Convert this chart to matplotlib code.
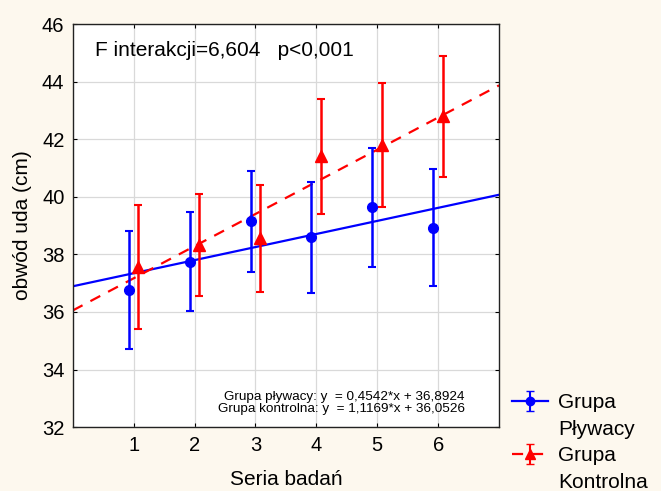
import matplotlib
matplotlib.use("Agg")
import matplotlib.pyplot as plt
from matplotlib.lines import Line2D
import numpy as np

plt.rcParams['font.family'] = ['Liberation Sans', 'DejaVu Sans']

series = [1, 2, 3, 4, 5, 6]
plywacy_mean = [36.75, 37.75, 39.15, 38.6, 39.63, 38.93]
plywacy_err = [2.05, 1.72, 1.75, 1.93, 2.06, 2.02]
kontrolna_mean = [37.57, 38.33, 38.56, 41.41, 41.8, 42.8]
kontrolna_err = [2.15, 1.78, 1.86, 2.0, 2.15, 2.1]
fit_plywacy = (0.4542, 36.8924)
fit_kontrolna = (1.1169, 36.0526)
yticks = [32, 34, 36, 38, 40, 42, 44, 46]

bg = '#FDF8EE'
blue = '#0000FF'
red = '#FF0000'
fig = plt.figure(figsize=(6.61, 4.91), dpi=100, facecolor=bg)
ax = fig.add_axes([0.110, 0.130, 0.645, 0.821])
ax.set_facecolor('white')

x = np.array(series, dtype=float)
off = 0.08
xl = np.array([0, 7])
ax.plot(xl, fit_plywacy[0] * xl + fit_plywacy[1], color=blue, lw=1.6, zorder=2)
ax.plot(xl, fit_kontrolna[0] * xl + fit_kontrolna[1], color=red, lw=1.6,
        ls=(0, (5, 4)), zorder=2)

ax.errorbar(x - off, plywacy_mean, yerr=plywacy_err, fmt='o', color=blue,
            ms=7, capsize=3, elinewidth=1.8, capthick=1.5, zorder=3)
ax.errorbar(x + off, kontrolna_mean, yerr=kontrolna_err, fmt='^', color=red,
            ms=8, capsize=3, elinewidth=1.8, capthick=1.5, zorder=3)

# legend proxies (line + marker + error bar)
h1 = ax.errorbar([np.nan], [np.nan], yerr=[1], fmt='-o', color=blue, ms=6,
                 capsize=3, elinewidth=1.5, lw=1.6)
h2 = ax.errorbar([np.nan], [np.nan], yerr=[1], fmt='^', ls=(0, (5, 4)), color=red,
                 ms=7, capsize=3, elinewidth=1.5, lw=1.6)
blank = Line2D([], [], color='none')

ax.set_xlim(0, 7)
ax.set_ylim(32, 46)
ax.set_xticks(series)
ax.set_yticks(yticks)
ax.grid(True, color='#D9D9D9', lw=0.9)
ax.set_axisbelow(True)
ax.tick_params(direction='in', length=3, labelsize=14.5, top=True, right=True,
               labeltop=False, labelright=False, pad=6)
for s in ax.spines.values():
    s.set_color('#222222')
    s.set_linewidth(1.0)

ax.set_xlabel('Seria badań', fontsize=15, labelpad=11)
ax.set_ylabel('obwód uda (cm)', fontsize=15, labelpad=7)

ax.text(0.052, 0.935, 'F interakcji=6,604   p<0,001', transform=ax.transAxes,
        fontsize=15, va='center', ha='left')
ax.text(0.92, 0.03,
        'Grupa pływacy: y  = 0,4542*x + 36,8924\nGrupa kontrolna: y  = 1,1169*x + 36,0526',
        transform=ax.transAxes, fontsize=9.7, ha='right', va='bottom', linespacing=1.0)

leg = fig.legend([h1, blank, h2, blank], ['Grupa', 'Pływacy', 'Grupa', 'Kontrolna'],
                 loc='upper left', bbox_to_anchor=(0.774, 0.199), frameon=False,
                 fontsize=15, handlelength=1.75, labelspacing=0.36, handletextpad=0.5,
                 borderaxespad=0, borderpad=0)

fig.savefig('out.png', dpi=100, facecolor=bg)
